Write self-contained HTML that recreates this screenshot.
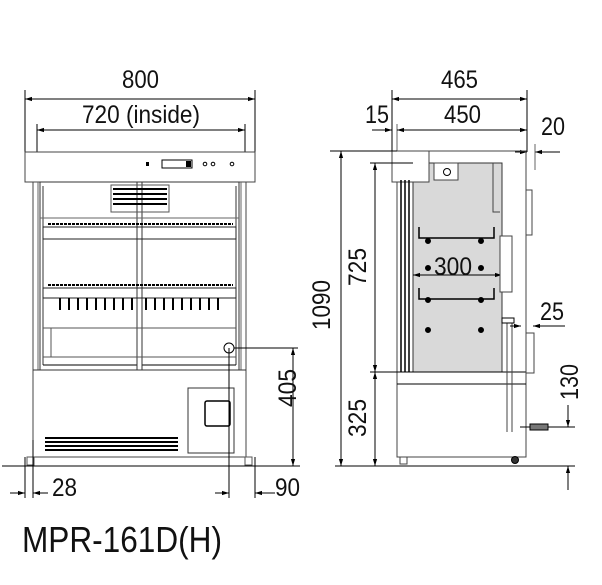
<!DOCTYPE html>
<html><head><meta charset="utf-8"><style>
html,body{margin:0;padding:0;background:#fff;}
svg{display:block;}
text{font-family:"Liberation Sans",sans-serif;fill:#111;}
</style></head><body>
<svg width="602" height="585" viewBox="0 0 602 585" xmlns="http://www.w3.org/2000/svg">
<defs>
<marker id="a" viewBox="0 0 10 10" refX="10" refY="5" markerWidth="7" markerHeight="7" orient="auto-start-reverse"><path d="M0,2 L10,5 L0,8 z" fill="#000"/></marker>
</defs>
<g stroke="#000" stroke-width="1" fill="none">
<line x1="25" y1="90" x2="25" y2="152"/><line x1="255" y1="90" x2="255" y2="152"/>
<line x1="25" y1="99" x2="255" y2="99" marker-start="url(#a)" marker-end="url(#a)"/>
<line x1="37" y1="124" x2="37" y2="152"/><line x1="245" y1="124" x2="245" y2="152"/>
<line x1="37" y1="130" x2="245" y2="130" marker-start="url(#a)" marker-end="url(#a)"/>
<rect x="25" y="152" width="230" height="30" stroke="#444"/>
<rect x="33" y="182" width="213" height="275" stroke="#444"/>
<line x1="38" y1="182" x2="38" y2="370" stroke="#666"/><line x1="241" y1="182" x2="241" y2="370" stroke="#666"/>
<rect x="40" y="182" width="199" height="188" stroke="#333"/>
<line x1="33" y1="370" x2="246" y2="370" stroke="#333"/>
<line x1="43" y1="186" x2="43" y2="365" stroke="#333"/><line x1="236" y1="186" x2="236" y2="365" stroke="#333"/>
<line x1="43" y1="365" x2="236" y2="365"/>
<rect x="137" y="182" width="5" height="188" stroke="#333" fill="#fff"/>
<rect x="111" y="185" width="58" height="27" stroke="#555"/>
<line x1="40" y1="218" x2="239" y2="218" stroke="#666"/>
<rect x="43" y="227" width="193" height="12" stroke="#222"/>
<line x1="48" y1="224" x2="233" y2="224" stroke-dasharray="3 1" stroke-width="2"/>
<rect x="43" y="288" width="193" height="10" stroke="#222"/>
<line x1="48" y1="285" x2="233" y2="285" stroke-dasharray="3 1" stroke-width="2"/>
<line x1="43" y1="328" x2="236" y2="328" stroke="#555"/>
<line x1="51" y1="328" x2="51" y2="357" stroke="#555"/>
<line x1="43" y1="357" x2="236" y2="357" stroke="#555"/>
<circle cx="229" cy="348" r="5"/>
<rect x="188" y="388" width="46" height="65" stroke="#333"/>
<rect x="205" y="401" width="25" height="25" rx="2" stroke-width="1.5"/>
<line x1="229" y1="348" x2="229" y2="498"/>
<line x1="234" y1="348" x2="298" y2="348"/>
<line x1="293" y1="348" x2="293" y2="466" marker-start="url(#a)" marker-end="url(#a)"/>
<line x1="2" y1="466" x2="300" y2="466"/>
<rect x="27" y="457" width="7" height="8" stroke="#555"/><rect x="245" y="457" width="7" height="8" stroke="#555"/>
<line x1="25" y1="457" x2="25" y2="498"/><line x1="33" y1="440" x2="33" y2="498"/>
<line x1="10" y1="493" x2="25" y2="493" marker-end="url(#a)"/><line x1="48" y1="493" x2="33" y2="493" marker-end="url(#a)"/>
<line x1="255" y1="457" x2="255" y2="498"/>
<line x1="215" y1="493" x2="229" y2="493" marker-end="url(#a)"/><line x1="275" y1="493" x2="255" y2="493" marker-end="url(#a)"/>
<line x1="392" y1="90" x2="392" y2="182"/><line x1="527" y1="90" x2="527" y2="152"/>
<line x1="392" y1="99" x2="527" y2="99" marker-start="url(#a)" marker-end="url(#a)"/>
<line x1="397" y1="124" x2="397" y2="182" stroke="#666"/>
<line x1="397" y1="130" x2="527" y2="130" marker-start="url(#a)" marker-end="url(#a)"/>
<line x1="372" y1="130" x2="392" y2="130" marker-end="url(#a)"/>
<line x1="515" y1="152" x2="527" y2="152" marker-end="url(#a)"/><line x1="560" y1="152" x2="535" y2="152" marker-end="url(#a)"/>
<line x1="535" y1="144" x2="535" y2="170" stroke="#666"/>
<rect x="413" y="163" width="89" height="209" fill="#d9d9d9" stroke="#333"/>
<rect x="397" y="151" width="129" height="306" stroke="#444"/>
<rect x="392" y="151" width="37" height="31" fill="#fff" stroke="#444"/>
<rect x="434" y="163" width="24" height="17" fill="#fff" stroke="#444"/>
<circle cx="447" cy="172" r="3.5"/>
<line x1="401" y1="180" x2="401" y2="372" stroke-width="1.5"/><line x1="405" y1="180" x2="405" y2="372" stroke-width="1.5"/><line x1="409" y1="180" x2="409" y2="372" stroke-width="1.5"/>
<line x1="397" y1="372" x2="526" y2="372"/><line x1="397" y1="384" x2="526" y2="384"/>
<path d="M419,227 V238 H494 V227" stroke-width="1.5"/>
<path d="M419,288 V299 H494 V288" stroke-width="1.5"/>
<line x1="413" y1="275" x2="502" y2="275" marker-start="url(#a)" marker-end="url(#a)"/>
<g fill="#000"><circle cx="428" cy="241" r="2.5"/><circle cx="481" cy="241" r="2.5"/><circle cx="428" cy="268" r="2.5"/><circle cx="481" cy="268" r="2.5"/><circle cx="428" cy="300" r="2.5"/><circle cx="481" cy="300" r="2.5"/><circle cx="428" cy="330" r="2.5"/><circle cx="481" cy="330" r="2.5"/></g>
<path d="M493,163 V212 H500" stroke="#444"/>
<rect x="500" y="236" width="12" height="56" fill="#fff" stroke="#444"/>
<line x1="507" y1="323" x2="507" y2="432" stroke="#444"/><line x1="512" y1="323" x2="512" y2="432" stroke="#444"/>
<rect x="502" y="318" width="12" height="5" fill="#fff"/>
<rect x="526" y="190" width="6" height="45" stroke="#444"/>
<rect x="526" y="333" width="8" height="40" stroke="#444"/>
<line x1="510" y1="326" x2="521" y2="326" marker-end="url(#a)"/><line x1="565" y1="326" x2="533" y2="326" marker-end="url(#a)"/>
<rect x="530" y="424" width="18" height="6" fill="#777" stroke="#000"/>
<line x1="520" y1="427" x2="530" y2="427"/>
<line x1="548" y1="427" x2="575" y2="427"/>
<line x1="568" y1="405" x2="568" y2="427" marker-end="url(#a)"/>
<line x1="568" y1="490" x2="568" y2="466" marker-end="url(#a)"/>
<rect x="400" y="457" width="7" height="7" stroke="#444"/>
<circle cx="515" cy="460" r="3.5" fill="#333"/>
<line x1="330" y1="151" x2="397" y2="151"/>
<line x1="370" y1="163" x2="413" y2="163"/>
<line x1="370" y1="372" x2="400" y2="372"/>
<line x1="335" y1="466" x2="575" y2="466"/>
<line x1="341" y1="151" x2="341" y2="466" marker-start="url(#a)" marker-end="url(#a)"/>
<line x1="375" y1="163" x2="375" y2="372" marker-start="url(#a)" marker-end="url(#a)"/>
<line x1="375" y1="372" x2="375" y2="466" marker-start="url(#a)" marker-end="url(#a)"/>
</g>
<g fill="#000">
<rect x="146" y="162" width="3" height="4"/>
<rect x="162" y="160" width="30" height="8" fill="none" stroke="#000"/>
<rect x="186" y="161" width="5" height="6"/>
<circle cx="205" cy="164" r="1.8" fill="none" stroke="#000"/><circle cx="213" cy="164" r="1.8" fill="none" stroke="#000"/><circle cx="232" cy="164" r="1.8" fill="none" stroke="#000"/>
<rect x="113" y="188" width="54" height="2"/><rect x="113" y="193" width="54" height="2"/><rect x="113" y="198" width="54" height="2"/><rect x="113" y="203" width="54" height="2"/>
<rect x="45" y="437" width="133" height="2"/><rect x="45" y="441" width="133" height="2"/><rect x="45" y="445" width="133" height="2"/><rect x="45" y="449" width="133" height="2"/>
</g>
<g stroke="#000" stroke-width="2" fill="none">
<path d="M60,298 v12 M69,298 v12 M78,298 v12 M87,298 v12 M96,298 v12 M105,298 v12 M114,298 v12 M123,298 v12 M132,298 v12 M146,298 v12 M155,298 v12 M164,298 v12 M173,298 v12 M182,298 v12 M191,298 v12 M200,298 v12 M209,298 v12 M218,298 v12"/>
</g>
<g font-size="25">
<text x="122" y="88" textLength="37" lengthAdjust="spacingAndGlyphs">800</text>
<text x="82" y="123" textLength="118" lengthAdjust="spacingAndGlyphs">720 (inside)</text>
<text x="441" y="88" textLength="37" lengthAdjust="spacingAndGlyphs">465</text>
<text x="444" y="123" textLength="37" lengthAdjust="spacingAndGlyphs">450</text>
<text x="365" y="123" textLength="24" lengthAdjust="spacingAndGlyphs">15</text>
<text x="541" y="135" textLength="24" lengthAdjust="spacingAndGlyphs">20</text>
<text x="434" y="275" textLength="38" lengthAdjust="spacingAndGlyphs">300</text>
<text x="540" y="320" textLength="24" lengthAdjust="spacingAndGlyphs">25</text>
<text x="52" y="496" textLength="25" lengthAdjust="spacingAndGlyphs">28</text>
<text x="275" y="496" textLength="25" lengthAdjust="spacingAndGlyphs">90</text>
<text transform="translate(296,407) rotate(-90)" textLength="38" lengthAdjust="spacingAndGlyphs">405</text>
<text transform="translate(330,330) rotate(-90)" textLength="50" lengthAdjust="spacingAndGlyphs">1090</text>
<text transform="translate(366,286) rotate(-90)" textLength="38" lengthAdjust="spacingAndGlyphs">725</text>
<text transform="translate(366,437) rotate(-90)" textLength="38" lengthAdjust="spacingAndGlyphs">325</text>
<text transform="translate(578,400) rotate(-90)" textLength="36" lengthAdjust="spacingAndGlyphs">130</text>
</g>
<text x="22" y="552" font-size="36" textLength="200" lengthAdjust="spacingAndGlyphs">MPR-161D(H)</text>
</svg>
</body></html>
